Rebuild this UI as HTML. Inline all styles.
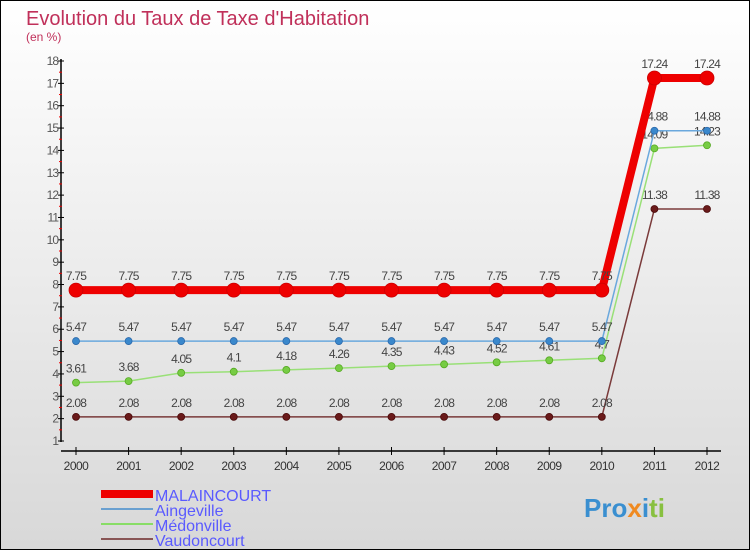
<!DOCTYPE html>
<html><head><meta charset="utf-8"><style>
body{margin:0}
#c{width:748px;height:548px;border:1px solid #000;background:linear-gradient(#fff,#d8d8d8);position:relative;font-family:"Liberation Sans",sans-serif;overflow:hidden}
</style></head><body>
<div id="c">
<svg id="s" width="748" height="548" xmlns="http://www.w3.org/2000/svg">
<text x="25" y="24" font-size="20" fill="#c0305a">Evolution du Taux de Taxe d'Habitation</text>
<text x="25" y="40" font-size="12" fill="#c0305a">(en %)</text>
<g id="axes"></g><g id="series"></g>
<g>
<rect x="100" y="489" width="52" height="8" fill="#e00"/>
<text x="154" y="500" font-size="16" fill="#5a5aff">MALAINCOURT</text>
<rect x="100" y="507" width="52" height="2" fill="#6aa0d0"/>
<text x="154" y="515" font-size="16" fill="#5a5aff">Aingeville</text>
<rect x="100" y="522" width="52" height="2" fill="#88dd66"/>
<text x="154" y="530" font-size="16" fill="#5a5aff">Médonville</text>
<rect x="100" y="537" width="52" height="2" fill="#885555"/>
<text x="154" y="545" font-size="16" fill="#5a5aff">Vaudoncourt</text>
</g>
<text x="583" y="516" font-size="26" font-weight="bold"><tspan fill="#3a8fd0">Pro</tspan><tspan fill="#f08a20">x</tspan><tspan fill="#3a8fd0">i</tspan><tspan fill="#88c040">ti</tspan></text>
</svg></div>
<script>
const years=[2000,2001,2002,2003,2004,2005,2006,2007,2008,2009,2010,2011,2012];
const malaincourt=[7.75,7.75,7.75,7.75,7.75,7.75,7.75,7.75,7.75,7.75,7.75,17.24,17.24];
const aingeville=[5.47,5.47,5.47,5.47,5.47,5.47,5.47,5.47,5.47,5.47,5.47,14.88,14.88];
const medonville=[3.61,3.68,4.05,4.1,4.18,4.26,4.35,4.43,4.52,4.61,4.7,14.09,14.23];
const vaudoncourt=[2.08,2.08,2.08,2.08,2.08,2.08,2.08,2.08,2.08,2.08,2.08,11.38,11.38];
const yTicks=[1,2,3,4,5,6,7,8,9,10,11,12,13,14,15,16,17,18];
const NS="http://www.w3.org/2000/svg";
const X=i=>75+i*(706-75)/(years.length-1);
const Y=v=>440-(v-1)*(380/17);
function mk(t,a,p){const e=document.createElementNS(NS,t);for(const k in a)e.setAttribute(k,a[k]);p.appendChild(e);return e;}
const ax=document.getElementById('axes');
let l=mk('line',{x1:60,y1:58,x2:60,y2:441,stroke:'#000','stroke-width':1.5},ax);


l=mk('line',{x1:60,y1:450,x2:720,y2:450,stroke:'#000','stroke-width':1.5},ax);


yTicks.forEach(v=>{mk('line',{x1:57,y1:Y(v),x2:63,y2:Y(v),stroke:'#000'},ax);
 if(v<18)mk('line',{x1:58,y1:Y(v+0.5),x2:61,y2:Y(v+0.5),stroke:'#e00'},ax);
 const t=mk('text',{x:57,y:Y(v)+4,'font-size':12,fill:'#555','text-anchor':'end','letter-spacing':'-1'},ax);t.textContent=v;
 
 });
years.forEach((y,i)=>{mk('line',{x1:X(i),y1:446,x2:X(i),y2:454,stroke:'#000'},ax);
 const t=mk('text',{x:X(i),y:469,'font-size':12,fill:'#333','text-anchor':'middle','letter-spacing':'-0.5'},ax);t.textContent=y;
 
 });
const sg=document.getElementById('series');
function series(name,data,color,w,r,dot,stroke){
 const g=mk('g',{},sg);
 
 
 mk('polyline',{points:data.map((v,i)=>X(i)+','+Y(v)).join(' '),fill:'none',stroke:color,'stroke-width':w},g);
 data.forEach((v,i)=>{const c=mk('circle',{cx:X(i),cy:Y(v),r:r,fill:dot,stroke:stroke,'stroke-width':0.8},g);
  
  
  const t=mk('text',{x:X(i),y:Y(v)-10,'font-size':12,fill:'#444','text-anchor':'middle','letter-spacing':'-0.8'},g);
  t.textContent=String(v);
  
  });
}
series('vaudoncourt',vaudoncourt,'#7a3a3a',1.5,3.5,'#6a1a1a','#4a0a0a');
series('medonville',medonville,'#99e077',1.5,3.5,'#77cc44','#55aa22');
series('aingeville',aingeville,'#6aa8dd',1.5,3.5,'#3a88cc','#2a68aa');
series('malaincourt',malaincourt,'#ee0000',8,7,'#ee0000','#cc0000');
</script>
</body></html>
